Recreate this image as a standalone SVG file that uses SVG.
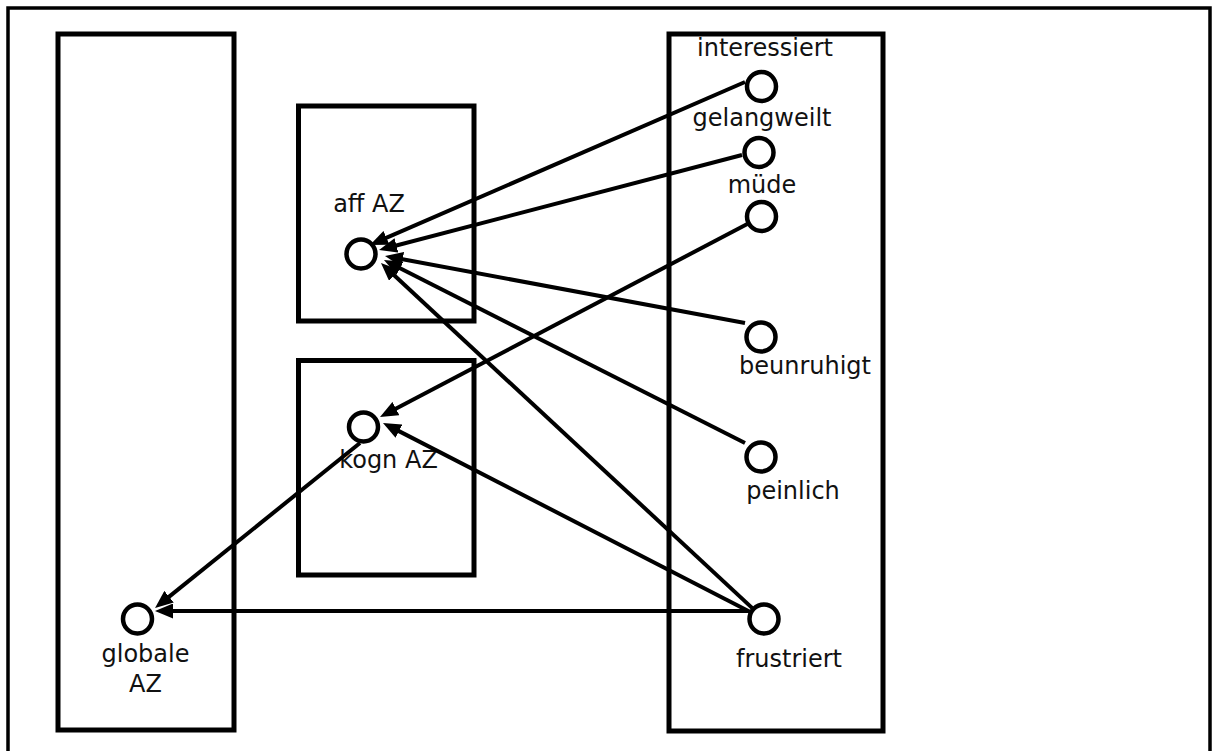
<svg xmlns="http://www.w3.org/2000/svg" width="1212" height="751" viewBox="0 0 1212 751">
  <defs>
    <marker id="arrow" markerUnits="userSpaceOnUse" markerWidth="18" markerHeight="15" viewBox="0 0 18 15" refX="11" refY="7.5" orient="auto">
      <path d="M0,0 L18,7.5 L0,15 z" fill="#000"/>
    </marker>
    <style>
      .frame { fill: none; stroke: #000; stroke-width: 3.5; }
      .box { fill: none; stroke: #000; stroke-width: 5; }
      .node { fill: #fff; stroke: #000; stroke-width: 4.5; }
      .label { font-family: "DejaVu Sans", "Liberation Sans", sans-serif; font-size: 24px; fill: #111; text-anchor: middle; }
      .edge { fill: none; stroke: #000; stroke-width: 4; marker-end: url(#arrow); }
    </style>
  </defs>

  <rect width="1212" height="751" fill="#fff"/>

  <!-- outer frame (open at the bottom) -->
  <rect class="frame" x="8" y="8" width="1202" height="770"/>

  <!-- containers -->
  <g id="panel-global">
    <rect class="box" x="58" y="34" width="176" height="696"/>
  </g>
  <g id="panel-aff">
    <rect class="box" x="298.5" y="106" width="175.5" height="215"/>
  </g>
  <g id="panel-kogn">
    <rect class="box" x="298.5" y="360.5" width="175.5" height="214.5"/>
  </g>
  <g id="panel-emotions">
    <rect class="box" x="669" y="34" width="214" height="697"/>
  </g>

  <!-- emotion nodes -->
  <g id="node-interessiert">
    <circle class="node" cx="761.5" cy="86.5" r="14.5"/>
    <text class="label" x="765" y="56">interessiert</text>
  </g>
  <g id="node-gelangweilt">
    <circle class="node" cx="759" cy="152.5" r="14.5"/>
    <text class="label" x="762" y="126">gelangweilt</text>
  </g>
  <g id="node-muede">
    <circle class="node" cx="761.5" cy="216.5" r="14.5"/>
    <text class="label" x="762" y="193">müde</text>
  </g>
  <g id="node-beunruhigt">
    <circle class="node" cx="761" cy="337" r="14.5"/>
    <text class="label" x="805" y="374">beunruhigt</text>
  </g>
  <g id="node-peinlich">
    <circle class="node" cx="761" cy="457" r="14.5"/>
    <text class="label" x="793" y="499">peinlich</text>
  </g>
  <g id="node-frustriert">
    <circle class="node" cx="764" cy="619" r="14.5"/>
    <text class="label" x="789" y="667">frustriert</text>
  </g>

  <!-- aggregate nodes -->
  <g id="node-aff-az">
    <circle class="node" cx="361" cy="254" r="14.5"/>
    <text class="label" x="369" y="212">aff AZ</text>
  </g>
  <g id="node-kogn-az">
    <circle class="node" cx="363.5" cy="427" r="14.5"/>
    <text class="label" x="388.5" y="468">kogn AZ</text>
  </g>
  <g id="node-globale-az">
    <circle class="node" cx="137.5" cy="619" r="14.5"/>
    <text class="label" x="145.5" y="662">globale</text>
    <text class="label" x="145.5" y="692">AZ</text>
  </g>

  <!-- connectors -->
  <g id="connectors">
    <path class="edge" d="M745,82 L376.4,242.2"/>
    <path class="edge" d="M742,155 L385.8,248.2"/>
    <path class="edge" d="M745,323 L391.9,257.3"/>
    <path class="edge" d="M745,443 L390.2,263.2"/>
    <path class="edge" d="M752.3,608.1 L386.1,267.8"/>
    <path class="edge" d="M747.3,224 L386.2,413.7"/>
    <path class="edge" d="M749.8,611.7 L389.2,426.1"/>
    <path class="edge" d="M748,611 L162,611"/>
    <path class="edge" d="M360,443 L160.5,603.6"/>
  </g>
</svg>
